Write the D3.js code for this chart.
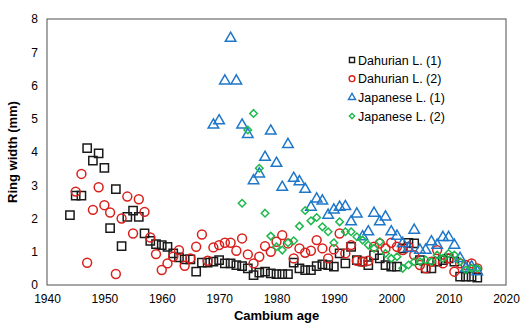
<!DOCTYPE html>
<html>
<head>
<meta charset="utf-8">
<script src="https://cdn.jsdelivr.net/npm/d3@7"></script>
<style>
  body { margin: 0; background: #fff; }
  text { font-family: "Liberation Sans", Arial, sans-serif; }
</style>
</head>
<body>
<div id="chart"></div>
<script>
// series data: [cambium year, ring width (mm)]
const dahurian1 = [
  [1944, 2.10], [1945, 2.69], [1946, 2.69], [1947, 4.12], [1948, 3.74], [1949, 3.96],
  [1950, 3.52], [1951, 1.71], [1952, 2.88], [1953, 1.17], [1954, 2.05], [1955, 2.24],
  [1956, 2.05], [1957, 1.55], [1958, 1.33], [1959, 1.23], [1960, 1.20], [1961, 1.15],
  [1962, 0.95], [1963, 0.83], [1964, 0.77], [1965, 0.77], [1966, 0.40], [1967, 0.67],
  [1968, 0.67], [1969, 0.70], [1970, 0.75], [1971, 0.65], [1972, 0.65], [1973, 0.60],
  [1974, 0.57], [1975, 0.50], [1976, 0.30], [1977, 0.37], [1978, 0.40], [1979, 0.35],
  [1980, 0.33], [1981, 0.33], [1982, 0.33], [1983, 0.67], [1984, 0.50], [1985, 0.45],
  [1986, 0.45], [1987, 0.57], [1988, 0.62], [1989, 0.60], [1990, 0.55], [1991, 0.95],
  [1992, 0.65], [1993, 1.15], [1994, 0.75], [1995, 0.70], [1996, 0.60], [1997, 0.90],
  [1998, 0.80], [1999, 0.60], [2000, 0.55], [2001, 0.55], [2002, 1.10], [2003, 1.27],
  [2004, 1.25], [2005, 0.75], [2006, 0.50], [2007, 0.50], [2008, 0.70], [2009, 0.75],
  [2010, 0.80], [2011, 0.70], [2012, 0.25], [2013, 0.25], [2014, 0.25], [2015, 0.22]
];
const dahurian2 = [
  [1945, 2.81], [1946, 3.34], [1947, 0.67], [1948, 2.26], [1949, 2.94], [1950, 2.40],
  [1951, 2.18], [1952, 0.33], [1953, 2.00], [1954, 2.66], [1955, 1.55], [1956, 2.58],
  [1957, 2.20], [1958, 1.43], [1959, 0.93], [1960, 0.45], [1961, 0.65], [1962, 0.85],
  [1963, 1.05], [1964, 0.58], [1965, 0.80], [1966, 1.15], [1967, 1.52], [1968, 0.73],
  [1969, 1.13], [1970, 1.20], [1971, 1.27], [1972, 1.27], [1973, 1.03], [1974, 1.40],
  [1975, 0.92], [1976, 0.65], [1977, 0.85], [1978, 1.17], [1979, 1.00], [1980, 1.30],
  [1981, 1.50], [1982, 1.25], [1983, 0.80], [1984, 1.10], [1985, 0.97], [1986, 1.03],
  [1987, 1.35], [1988, 1.10], [1989, 0.80], [1990, 1.07], [1991, 1.55], [1992, 0.95],
  [1993, 1.20], [1994, 0.73], [1995, 0.70], [1996, 0.73], [1997, 1.15], [1998, 1.25],
  [1999, 1.10], [2000, 1.27], [2001, 1.15], [2002, 1.05], [2003, 1.15], [2004, 0.90],
  [2005, 0.60], [2006, 0.50], [2007, 0.70], [2008, 1.05], [2009, 0.65], [2010, 0.80],
  [2011, 0.40], [2012, 0.65], [2013, 0.60], [2014, 0.65], [2015, 0.50]
];
const japanese1 = [
  [1969, 4.81], [1970, 4.94], [1971, 6.14], [1972, 7.42], [1973, 6.14], [1974, 4.81],
  [1975, 4.53], [1976, 3.14], [1977, 3.34], [1978, 3.84], [1979, 4.63], [1980, 3.66],
  [1981, 2.94], [1982, 4.23], [1983, 3.21], [1984, 3.11], [1985, 2.88], [1986, 2.34],
  [1987, 2.59], [1988, 2.53], [1989, 2.10], [1990, 2.26], [1991, 2.34], [1992, 2.36],
  [1993, 1.90], [1994, 2.14], [1995, 1.45], [1996, 1.60], [1997, 2.16], [1998, 1.90],
  [1999, 2.05], [2000, 1.60], [2001, 1.47], [2002, 1.25], [2003, 1.10], [2004, 1.65],
  [2005, 1.05], [2006, 1.05], [2007, 1.30], [2008, 1.20], [2009, 1.43], [2010, 1.43],
  [2011, 1.20], [2012, 0.80], [2013, 0.50], [2014, 0.55], [2015, 0.40]
];
const japanese2 = [
  [1974, 2.46], [1975, 4.66], [1976, 5.16], [1977, 3.51], [1978, 2.16], [1979, 1.47],
  [1980, 1.15], [1981, 1.05], [1982, 1.27], [1983, 1.33], [1984, 1.77], [1985, 2.24],
  [1986, 1.93], [1987, 2.03], [1988, 1.75], [1989, 1.60], [1990, 1.27], [1991, 1.90],
  [1992, 1.60], [1993, 1.60], [1994, 1.45], [1995, 1.35], [1996, 1.20], [1997, 1.10],
  [1998, 1.30], [1999, 0.95], [2000, 0.80], [2001, 0.85], [2002, 0.50], [2003, 0.60],
  [2004, 0.70], [2005, 0.70], [2006, 0.75], [2007, 0.70], [2008, 0.90], [2009, 0.80],
  [2010, 0.95], [2011, 0.90], [2012, 0.70], [2013, 0.45], [2014, 0.50], [2015, 0.50]
];
const seriesNames = ["Dahurian L. (1)", "Dahurian L. (2)", "Japanese L. (1)", "Japanese L. (2)"];
const xTicks = [1940, 1950, 1960, 1970, 1980, 1990, 2000, 2010, 2020];
const yTicks = [0, 1, 2, 3, 4, 5, 6, 7, 8];

const series = [
  { name: seriesNames[0], data: dahurian1, color: "#1a1a1a", shape: "square" },
  { name: seriesNames[1], data: dahurian2, color: "#d9201c", shape: "circle" },
  { name: seriesNames[2], data: japanese1, color: "#1f77c9", shape: "triangle" },
  { name: seriesNames[3], data: japanese2, color: "#1fb84e", shape: "diamond" }
];

const W = 521, H = 323;
const plot = { left: 47, right: 506, top: 19, bottom: 285 };

const svg = d3.select("#chart").append("svg")
    .attr("width", W)
    .attr("height", H);

const x = d3.scaleLinear().domain([1940, 2020]).range([plot.left, plot.right]);
const y = d3.scaleLinear().domain([0, 8]).range([plot.bottom, plot.top]);

// plot frame
svg.append("rect")
    .attr("x", plot.left)
    .attr("y", plot.top)
    .attr("width", plot.right - plot.left)
    .attr("height", plot.bottom - plot.top)
    .attr("fill", "none")
    .attr("stroke", "#6b6b6b")
    .attr("stroke-width", 1.2);

// axes
const xAxis = svg.append("g")
    .attr("transform", "translate(0," + plot.bottom + ")")
    .call(d3.axisBottom(x).tickValues(xTicks).tickSize(0).tickPadding(9).tickFormat(d3.format("d")));
const yAxis = svg.append("g")
    .attr("transform", "translate(" + plot.left + ",0)")
    .call(d3.axisLeft(y).tickValues(yTicks).tickSize(0).tickPadding(9));
[xAxis, yAxis].forEach(a => {
  a.select(".domain").remove();
  a.selectAll("text")
      .attr("font-size", 12)
      .attr("font-family", "Liberation Sans, Arial, sans-serif")
      .attr("fill", "#000");
});

// axis titles
svg.append("text")
    .attr("x", (plot.left + plot.right) / 2)
    .attr("y", 320)
    .attr("text-anchor", "middle")
    .attr("font-size", 13)
    .attr("font-weight", "bold")
    .text("Cambium age");
svg.append("text")
    .attr("transform", "translate(17," + ((plot.top + plot.bottom) / 2) + ") rotate(-90)")
    .attr("text-anchor", "middle")
    .attr("font-size", 13)
    .attr("font-weight", "bold")
    .text("Ring width (mm)");

// marker symbols
const symbolFor = {
  square: d3.symbol(d3.symbolSquare, 68),
  circle: d3.symbol(d3.symbolCircle, 62),
  triangle: d3.symbol(d3.symbolTriangle, 48),
  diamond: d3.symbol(d3.symbolDiamond2, 36)
};
const legendSymbol = {
  square: d3.symbol(d3.symbolSquare, 26),
  circle: d3.symbol(d3.symbolCircle, 26),
  triangle: d3.symbol(d3.symbolTriangle, 22),
  diamond: d3.symbol(d3.symbolDiamond2, 18)
};

series.forEach(s => {
  svg.append("g")
    .selectAll("path")
    .data(s.data)
    .join("path")
      .attr("d", symbolFor[s.shape]())
      .attr("transform", d => "translate(" + x(d[0]) + "," + y(d[1]) + ")")
      .attr("fill", "none")
      .attr("stroke", s.color)
      .attr("stroke-width", 1.5);
});

// legend
const legend = svg.append("g").attr("transform", "translate(352,60)");
series.forEach((s, i) => {
  const row = legend.append("g").attr("transform", "translate(0," + (i * 18.7) + ")");
  row.append("path")
      .attr("d", legendSymbol[s.shape]())
      .attr("fill", "none")
      .attr("stroke", s.color)
      .attr("stroke-width", 1.4);
  row.append("text")
      .attr("x", 6)
      .attr("y", 4.5)
      .attr("font-size", 12.5)
      .text(s.name);
});
</script>
</body>
</html>
